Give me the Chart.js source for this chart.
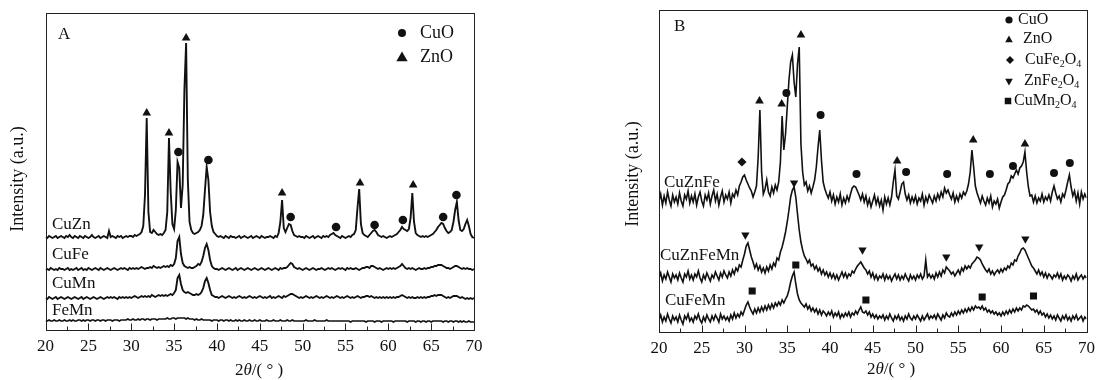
<!DOCTYPE html>
<html>
<head>
<meta charset="utf-8">
<script src="https://cdn.jsdelivr.net/npm/chart.js@4.4.1/dist/chart.umd.min.js"></script>
<style>
  body { margin: 0; background: #fff; }
  #wrap { position: relative; width: 1101px; height: 380px; overflow: hidden; }
  .panel { position: absolute; top: 0; }
  #chartA { left: 0; }
  #chartB { left: 550px; }
</style>
</head>
<body>
<div id="wrap">
  <canvas id="chartA" class="panel" width="550" height="380"></canvas>
  <canvas id="chartB" class="panel" width="551" height="380"></canvas>
</div>
<script>
"use strict";

// ? 2theta grid (degrees), shared by every pattern
const twoTheta = [
  20, 20.2, 20.4, 20.6, 20.8, 21, 21.2, 21.4, 21.6, 21.8,
  22, 22.2, 22.4, 22.6, 22.8, 23, 23.2, 23.4, 23.6, 23.8,
  24, 24.2, 24.4, 24.6, 24.8, 25, 25.2, 25.4, 25.6, 25.8,
  26, 26.2, 26.4, 26.6, 26.8, 27, 27.2, 27.4, 27.6, 27.8,
  28, 28.2, 28.4, 28.6, 28.8, 29, 29.2, 29.4, 29.6, 29.8,
  30, 30.2, 30.4, 30.6, 30.8, 31, 31.2, 31.4, 31.6, 31.8,
  32, 32.2, 32.4, 32.6, 32.8, 33, 33.2, 33.4, 33.6, 33.8,
  34, 34.2, 34.4, 34.6, 34.8, 35, 35.2, 35.4, 35.6, 35.8,
  36, 36.2, 36.4, 36.6, 36.8, 37, 37.2, 37.4, 37.6, 37.8,
  38, 38.2, 38.4, 38.6, 38.8, 39, 39.2, 39.4, 39.6, 39.8,
  40, 40.2, 40.4, 40.6, 40.8, 41, 41.2, 41.4, 41.6, 41.8,
  42, 42.2, 42.4, 42.6, 42.8, 43, 43.2, 43.4, 43.6, 43.8,
  44, 44.2, 44.4, 44.6, 44.8, 45, 45.2, 45.4, 45.6, 45.8,
  46, 46.2, 46.4, 46.6, 46.8, 47, 47.2, 47.4, 47.6, 47.8,
  48, 48.2, 48.4, 48.6, 48.8, 49, 49.2, 49.4, 49.6, 49.8,
  50, 50.2, 50.4, 50.6, 50.8, 51, 51.2, 51.4, 51.6, 51.8,
  52, 52.2, 52.4, 52.6, 52.8, 53, 53.2, 53.4, 53.6, 53.8,
  54, 54.2, 54.4, 54.6, 54.8, 55, 55.2, 55.4, 55.6, 55.8,
  56, 56.2, 56.4, 56.6, 56.8, 57, 57.2, 57.4, 57.6, 57.8,
  58, 58.2, 58.4, 58.6, 58.8, 59, 59.2, 59.4, 59.6, 59.8,
  60, 60.2, 60.4, 60.6, 60.8, 61, 61.2, 61.4, 61.6, 61.8,
  62, 62.2, 62.4, 62.6, 62.8, 63, 63.2, 63.4, 63.6, 63.8,
  64, 64.2, 64.4, 64.6, 64.8, 65, 65.2, 65.4, 65.6, 65.8,
  66, 66.2, 66.4, 66.6, 66.8, 67, 67.2, 67.4, 67.6, 67.8,
  68, 68.2, 68.4, 68.6, 68.8, 69, 69.2, 69.4, 69.6, 69.8,
  70
];

// ! PANEL A : intensity (a.u., stacked offsets)
const cuZn = [
  93, 92, 94, 93, 92, 93, 94, 92, 93, 94,
  93, 92, 94, 93, 95, 93, 92, 94, 93, 92,
  94, 93, 92, 94, 93, 92, 93, 95, 93, 92,
  93, 94, 92, 93, 94, 93, 92, 99, 93, 94,
  93, 92, 94, 93, 94, 92, 93, 94, 93, 94,
  94, 93, 95, 94, 95, 96, 98, 104, 135, 212,
  118, 98, 97, 100, 98, 96, 95, 96, 95, 97,
  100, 118, 192, 138, 106, 101, 120, 168, 162, 122,
  145, 240, 287, 150, 108, 100, 97, 96, 97, 98,
  100, 104, 115, 140, 163, 150, 118, 104, 98, 96,
  94, 93, 94, 93, 92, 94, 93, 92, 94, 93,
  93, 92, 93, 94, 92, 93, 94, 93, 92, 93,
  94, 92, 93, 94, 93, 92, 94, 93, 92, 93,
  93, 94, 93, 92, 94, 93, 97, 108, 130, 102,
  98, 102, 106, 105, 99, 95, 94, 93, 94, 93,
  93, 92, 94, 93, 92, 93, 94, 92, 93, 94,
  93, 92, 94, 93, 94, 93, 95, 96, 97, 95,
  94, 93, 92, 94, 93, 92, 93, 94, 93, 95,
  96, 100, 122, 141, 106, 97, 95, 94, 93, 95,
  97, 99, 100, 98, 95, 94, 93, 94, 93, 92,
  93, 94, 93, 94, 95, 96, 98, 100, 103, 101,
  100, 99, 101, 112, 137, 108, 97, 95, 94, 93,
  94, 93, 94, 93, 94, 95, 96, 98, 100, 103,
  105, 107, 106, 102, 99, 97, 98, 100, 108, 120,
  128, 110, 100, 99, 101, 106, 110, 104, 96, 93,
  92
];
const cuFe = [
  60, 61, 60, 62, 61, 60, 61, 60, 62, 61,
  61, 60, 61, 62, 60, 61, 60, 61, 62, 60,
  61, 62, 60, 61, 60, 62, 61, 60, 61, 62,
  61, 60, 62, 61, 60, 61, 62, 61, 60, 61,
  62, 61, 60, 61, 62, 61, 62, 61, 60, 62,
  61, 62, 61, 62, 61, 62, 63, 62, 61, 62,
  62, 63, 62, 64, 63, 62, 63, 62, 63, 64,
  63, 64, 63, 65, 64, 66, 72, 89, 93, 76,
  67, 64, 63, 62, 63, 62, 62, 63, 64, 66,
  65, 68, 74, 82, 86, 80, 70, 64, 62, 61,
  61, 60, 61, 62, 61, 60, 61, 62, 61, 60,
  61, 62, 60, 61, 62, 61, 60, 61, 62, 61,
  60, 61, 62, 61, 60, 61, 62, 61, 60, 61,
  62, 61, 60, 61, 62, 61, 60, 62, 61, 62,
  62, 63, 65, 67, 66, 63, 62, 61, 62, 61,
  60, 61, 62, 61, 60, 61, 62, 61, 60, 61,
  61, 62, 61, 60, 61, 62, 61, 62, 61, 60,
  61, 62, 61, 62, 61, 60, 62, 61, 62, 61,
  61, 62, 61, 60, 61, 62, 62, 63, 63, 62,
  64, 64, 63, 62, 61, 62, 61, 60, 61, 62,
  61, 62, 61, 62, 61, 62, 63, 64, 66, 64,
  62, 61, 62, 61, 62, 61, 60, 61, 62, 61,
  61, 62, 61, 62, 62, 63, 63, 64, 64, 65,
  65, 65, 64, 63, 62, 62, 61, 62, 63, 64,
  64, 63, 62, 61, 62, 61, 62, 61, 61, 60,
  61
];
const cuMn = [
  32, 31, 33, 32, 31, 32, 33, 31, 32, 33,
  32, 31, 32, 33, 32, 31, 32, 33, 32, 31,
  32, 33, 31, 32, 33, 32, 31, 32, 33, 32,
  31, 32, 33, 32, 31, 32, 33, 32, 33, 32,
  33, 32, 31, 33, 32, 33, 32, 33, 32, 33,
  32, 33, 34, 33, 32, 33, 34, 33, 34, 33,
  34, 33, 35, 34, 33, 34, 35, 34, 35, 34,
  35, 34, 35, 36, 35, 37, 40, 52, 55, 46,
  40, 38, 37, 38, 37, 36, 35, 35, 36, 35,
  36, 38, 42, 49, 52, 47, 40, 35, 34, 33,
  33, 32, 33, 34, 33, 32, 33, 34, 33, 32,
  33, 32, 33, 34, 33, 32, 33, 32, 33, 34,
  33, 32, 33, 32, 33, 34, 33, 32, 33, 32,
  33, 34, 32, 33, 32, 33, 34, 33, 32, 34,
  33, 34, 35, 36, 36, 35, 34, 33, 32, 33,
  32, 33, 34, 33, 32, 33, 32, 33, 34, 33,
  32, 33, 32, 33, 34, 33, 32, 33, 32, 33,
  34, 33, 32, 33, 32, 33, 34, 33, 32, 33,
  32, 33, 34, 33, 32, 33, 33, 34, 34, 33,
  34, 33, 32, 33, 32, 33, 32, 33, 32, 33,
  32, 33, 32, 33, 32, 33, 33, 34, 35, 34,
  33, 32, 33, 32, 33, 32, 32, 33, 32, 33,
  32, 33, 32, 33, 33, 34, 34, 35, 34, 35,
  35, 35, 34, 33, 32, 33, 32, 33, 34, 34,
  34, 33, 32, 33, 32, 31, 32, 31, 32, 31,
  32
];
const feMn = [
  9, 9, 10, 9, 9, 10, 9, 9, 10, 9,
  9, 10, 9, 9, 10, 9, 10, 9, 9, 10,
  10, 9, 10, 9, 10, 10, 9, 10, 10, 9,
  10, 10, 9, 10, 10, 9, 10, 10, 10, 9,
  10, 10, 10, 9, 10, 10, 10, 10, 11, 10,
  10, 11, 10, 10, 11, 10, 11, 11, 10, 11,
  11, 10, 11, 11, 11, 10, 11, 11, 11, 11,
  11, 12, 11, 11, 12, 12, 11, 12, 12, 12,
  12, 12, 11, 12, 11, 11, 11, 10, 11, 10,
  10, 11, 10, 10, 10, 10, 10, 9, 10, 10,
  10, 9, 10, 10, 9, 10, 10, 9, 10, 9,
  9, 10, 9, 10, 9, 9, 10, 9, 9, 10,
  9, 9, 10, 9, 9, 10, 9, 9, 9, 10,
  9, 9, 9, 10, 9, 9, 9, 10, 9, 9,
  9, 10, 9, 9, 10, 9, 9, 9, 9, 9,
  9, 9, 10, 9, 9, 9, 9, 10, 9, 9,
  9, 9, 9, 9, 10, 9, 9, 9, 9, 9,
  9, 9, 9, 9, 9, 9, 9, 9, 8, 9,
  9, 9, 9, 9, 9, 9, 9, 8, 9, 9,
  9, 9, 8, 9, 9, 9, 8, 9, 9, 9,
  9, 9, 9, 8, 9, 9, 9, 9, 9, 9,
  9, 8, 9, 9, 9, 9, 8, 9, 9, 8,
  9, 9, 8, 9, 9, 8, 9, 9, 9, 9,
  9, 9, 8, 9, 9, 8, 9, 9, 8, 9,
  9, 8, 9, 8, 9, 8, 8, 9, 8, 8,
  8
];

// ! PANEL B
const cuZnFe = [
  131, 138, 127, 136, 129, 140, 132, 126, 137, 130,
  135, 128, 139, 131, 126, 137, 133, 141, 129, 136,
  130, 138, 127, 135, 140, 131, 126, 137, 132, 139,
  128, 136, 142, 131, 138, 127, 135, 141, 130, 137,
  133, 140, 129, 138, 135, 142, 137, 146, 150, 155,
  157, 152, 148, 144, 141, 135, 140, 146, 175, 222,
  160, 138, 143, 152, 140, 136, 145, 139, 147, 142,
  150, 170, 216, 182, 198, 225, 252, 270, 277, 250,
  235, 268, 285, 188, 160, 147, 150, 141, 146, 139,
  145, 152, 165, 185, 202, 172, 150, 143, 138, 134,
  140, 131, 137, 128, 135, 130, 138, 127, 134, 129,
  136, 131, 138, 144, 146, 145, 141, 137, 132, 138,
  130, 136, 127, 133, 125, 131, 137, 128, 134, 126,
  132, 122, 135, 128, 134, 127, 135, 150, 162, 136,
  133, 140, 148, 150, 138, 132, 137, 129, 135, 130,
  136, 128, 134, 131, 138, 127, 135, 130, 137, 133,
  129, 136, 131, 138, 133, 140, 135, 144, 139, 142,
  137, 133, 139, 130, 136, 131, 138, 134, 140, 137,
  141, 148, 160, 182, 165, 146, 139, 134, 129, 136,
  131, 127, 134, 129, 136, 125, 131, 128, 133, 124,
  130, 135, 137, 142, 148, 150, 156, 154, 158, 162,
  158, 164, 166, 170, 180, 160, 145, 136, 137, 130,
  136, 129, 134, 131, 138, 130, 135, 132, 137, 131,
  140, 146, 139, 133, 136, 130, 138, 135, 142, 150,
  157, 145, 136, 141, 131, 139, 128, 140, 133, 138,
  134
];
const cuZnFeMn = [
  54, 59, 51, 57, 53, 60, 55, 50, 58, 54,
  57, 52, 59, 54, 50, 58, 55, 61, 53, 57,
  52, 58, 55, 61, 54, 50, 57, 53, 59, 55,
  51, 57, 54, 60, 56, 52, 59, 55, 61, 57,
  54, 60, 56, 62, 58, 64, 61, 67, 65, 72,
  78, 86, 89, 82, 75, 70, 64, 68, 62, 66,
  60, 64, 59, 65, 61, 67, 63, 69, 66, 74,
  72, 80, 85, 92, 100, 110, 122, 135, 142, 145,
  135, 118, 102, 90, 82, 76, 73, 69, 72, 66,
  68, 63, 66, 61, 64, 58, 62, 57, 60, 55,
  59, 54, 58, 53, 57, 52, 56, 60, 55, 59,
  54, 58, 56, 61, 59, 63, 66, 68, 70, 67,
  64, 62, 58, 61, 55, 59, 53, 57, 52, 56,
  54, 58, 52, 57, 53, 56, 51, 55, 58, 53,
  57, 52, 56, 53, 58, 54, 51, 57, 53, 56,
  52, 57, 54, 58, 53, 56, 72, 55, 58, 54,
  57, 53, 59, 55, 60, 56, 62, 59, 65, 63,
  61, 58, 60, 56, 59, 62, 58, 64, 61, 66,
  63, 66, 64, 68, 70, 72, 75, 74, 72, 68,
  65, 62, 60, 63, 58, 61, 57, 60, 62, 59,
  63, 60, 64, 62, 66, 64, 69, 67, 72, 71,
  76, 79, 83, 84, 82, 78, 74, 70, 66, 64,
  61, 58, 62, 57, 60, 55, 59, 54, 58, 56,
  53, 57, 55, 59, 54, 58, 52, 56, 53, 57,
  55, 51, 56, 53, 58, 52, 55, 57, 53, 56,
  54
];
const cuFeMn = [
  12, 17, 10, 15, 11, 18, 13, 9, 16, 12,
  15, 10, 17, 12, 8, 16, 13, 18, 11, 14,
  10, 16, 13, 18, 12, 9, 15, 11, 17, 13,
  10, 16, 12, 17, 14, 10, 18, 13, 16, 12,
  15, 11, 17, 13, 19, 14, 18, 15, 20, 17,
  22, 27, 30, 25, 21, 18, 23, 19, 24, 20,
  25, 21, 26, 22, 27, 23, 28, 24, 29, 26,
  30, 27, 32, 29, 33, 36, 42, 50, 56, 60,
  48, 38, 32, 29, 27, 25, 28, 23, 26, 21,
  24, 20, 23, 18, 22, 17, 21, 19, 16, 20,
  17, 21, 15, 19, 16, 20, 14, 18, 15, 19,
  16, 20, 15, 19, 17, 21, 18, 22, 25, 20,
  19, 21, 17, 20, 15, 18, 14, 17, 13, 16,
  14, 17, 12, 16, 13, 18, 14, 11, 16, 13,
  17, 12, 15, 11, 16, 13, 18, 14, 12, 16,
  13, 17, 14, 11, 16, 12, 15, 18, 13, 16,
  14, 17, 13, 18, 15, 12, 17, 14, 19, 16,
  15, 19, 16, 20, 17, 21, 18, 22, 19, 23,
  20, 24, 21, 25, 22, 26, 24, 25, 23, 26,
  22, 24, 20, 22, 19, 21, 18, 20, 17, 19,
  16, 20, 17, 21, 18, 22, 19, 23, 20, 24,
  21, 24, 22, 26, 25, 27, 26, 24, 22, 23,
  20, 22, 18, 21, 17, 19, 15, 18, 14, 17,
  13, 16, 12, 17, 14, 11, 16, 13, 17, 12,
  15, 11, 16, 13, 17, 12, 14, 16, 11, 15,
  13
];

// ? phase markers (2theta, height)
const cuoA_x = [35.5, 39.0, 48.6, 53.9, 58.4, 61.7, 66.4, 67.95];
const cuoA_y = [178, 170, 113, 103, 105, 110, 113, 135];
const znoA_x = [31.8, 34.4, 36.4, 47.6, 56.7, 62.9];
const znoA_y = [217, 197, 292, 137, 147, 145];

const cuoB_x = [34.9, 38.9, 43.1, 48.9, 53.7, 58.7, 61.4, 66.2, 68.05];
const cuoB_y = [239, 217, 158, 160, 158, 158, 166, 159, 169];
const znoB_x = [31.75, 34.35, 36.6, 47.85, 56.75, 62.8];
const znoB_y = [231, 228, 297, 171, 192, 188];
const cuFe2O4_x = [29.7];
const cuFe2O4_y = [170];
const znFe2O4_x = [30.1, 35.8, 43.8, 53.6, 57.45, 62.85];
const znFe2O4_y = [97, 149, 82, 75, 85, 93];
const cuMn2O4_x = [30.9, 36.0, 44.2, 57.8, 63.8];
const cuMn2O4_y = [41, 67, 32, 35, 36];

const SERIF = '"Liberation Serif", "Times New Roman", serif';
const INK = "#111";

const pts = (ys) => twoTheta.map((x, i) => ({ x: x, y: ys[i] }));
const mk = (xs, ys) => xs.map((x, i) => ({ x: x, y: ys[i] }));

function lineSet(ys, w) {
  return { data: pts(ys), borderColor: INK, borderWidth: w, pointRadius: 0, fill: false, tension: 0 };
}
function markSet(xs, ys, style, r, rot) {
  return {
    data: mk(xs, ys), showLine: false, pointStyle: style, pointRadius: r,
    pointRotation: rot || 0, backgroundColor: INK, borderColor: INK, pointBorderWidth: 0
  };
}

// ? text helpers
function text(ctx, s, x, y, size, align) {
  ctx.font = size + "px " + SERIF;
  ctx.textAlign = align || "left";
  ctx.textBaseline = "middle";
  ctx.fillText(s, x, y);
}
function subText(ctx, parts, x, y, size) {
  let cx = x;
  ctx.textAlign = "left";
  ctx.textBaseline = "middle";
  parts.forEach((p) => {
    const sub = /^[0-9]$/.test(p);
    ctx.font = (sub ? Math.round(size * 0.62) : size) + "px " + SERIF;
    ctx.fillText(p, cx, sub ? y + size * 0.28 : y);
    cx += ctx.measureText(p).width;
  });
}
function xTitle(ctx, cx, y) {
  const parts = [["2", ""], ["θ", "italic "], ["/( ° )", ""]];
  let total = 0;
  parts.forEach((p) => { ctx.font = p[1] + "17px " + SERIF; total += ctx.measureText(p[0]).width; });
  let x = cx - total / 2;
  ctx.textAlign = "left";
  ctx.textBaseline = "middle";
  parts.forEach((p) => {
    ctx.font = p[1] + "17px " + SERIF;
    ctx.fillText(p[0], x, y);
    x += ctx.measureText(p[0]).width;
  });
}
function yTitle(ctx, x, y) {
  ctx.save();
  ctx.translate(x, y);
  ctx.rotate(-Math.PI / 2);
  text(ctx, "Intensity (a.u.)", 0, 0, 18, "center");
  ctx.restore();
}
function frame(chart, ctx) {
  const { left, right, top, bottom } = chart.chartArea;
  ctx.strokeStyle = "#222";
  ctx.lineWidth = 1;
  ctx.strokeRect(Math.round(left) + 0.5, Math.round(top) + 0.5, Math.round(right - left), Math.round(bottom - top));
  const xs = chart.scales.x;
  const b = Math.round(bottom) + 0.5;
  ctx.beginPath();
  xs.ticks.forEach((t, i) => {
    const px = Math.round(xs.getPixelForValue(t.value)) + 0.5;
    ctx.moveTo(px, b); ctx.lineTo(px, b - 7);
    if (i < xs.ticks.length - 1) {
      const mx = Math.round(xs.getPixelForValue((t.value + xs.ticks[i + 1].value) / 2)) + 0.5;
      ctx.moveTo(mx, b); ctx.lineTo(mx, b - 4);
    }
  });
  ctx.stroke();
}
function legendMark(ctx, style, r, rot, x, y) {
  ctx.fillStyle = INK;
  Chart.helpers.drawPoint(ctx, { pointStyle: style, radius: r, rotation: rot || 0, borderWidth: 0 }, x, y);
}

function makeChart(id, pad, xHeight, yMax, datasets, decorate) {
  return new Chart(document.getElementById(id), {
    type: "line",
    data: { datasets: datasets },
    options: {
      responsive: false,
      animation: false,
      events: [],
      layout: { padding: pad },
      plugins: { legend: { display: false }, tooltip: { enabled: false } },
      scales: {
        x: {
          type: "linear", min: 20, max: 70,
          grid: { display: false, drawTicks: false },
          border: { display: false },
          ticks: {
            stepSize: 5, autoSkip: false, maxRotation: 0, padding: 6, color: INK,
            font: { family: SERIF, size: 17 }
          },
          afterFit: (s) => { s.height = xHeight; }
        },
        y: { display: false, min: 0, max: yMax }
      }
    },
    plugins: [{
      id: "decor",
      afterDraw: (chart) => {
        const ctx = chart.ctx;
        ctx.save();
        frame(chart, ctx);
        ctx.fillStyle = INK;
        decorate(ctx);
        ctx.restore();
      }
    }]
  });
}

// ! PANEL A
makeChart("chartA", { left: 45.6, right: 76, top: 13, bottom: 0 }, 50, 317, [
  lineSet(cuZn, 1.9), lineSet(cuFe, 1.9), lineSet(cuMn, 1.9), lineSet(feMn, 1.7),
  markSet(cuoA_x, cuoA_y, "circle", 4.3),
  markSet(znoA_x, znoA_y, "triangle", 5)
], (ctx) => {
  text(ctx, "A", 58, 35, 17);
  text(ctx, "CuZn", 52, 225, 17);
  text(ctx, "CuFe", 52, 255, 17);
  text(ctx, "CuMn", 52, 284, 17);
  text(ctx, "FeMn", 52, 311, 17);
  legendMark(ctx, "circle", 4, 0, 402, 33);
  text(ctx, "CuO", 420, 33, 18);
  legendMark(ctx, "triangle", 6.5, 0, 402, 58);
  text(ctx, "ZnO", 420, 57, 18);
  yTitle(ctx, 18, 179);
  xTitle(ctx, 259, 371);
});

// ! PANEL B
makeChart("chartB", { left: 109, right: 10, top: 10, bottom: 0 }, 48, 322, [
  lineSet(cuZnFe, 1.6), lineSet(cuZnFeMn, 1.6), lineSet(cuFeMn, 1.6),
  markSet(cuoB_x, cuoB_y, "circle", 4),
  markSet(znoB_x, znoB_y, "triangle", 5),
  markSet(cuFe2O4_x, cuFe2O4_y, "rectRot", 4.6),
  markSet(znFe2O4_x, znFe2O4_y, "triangle", 4.8, 180),
  markSet(cuMn2O4_x, cuMn2O4_y, "rect", 5)
], (ctx) => {
  text(ctx, "B", 124, 27, 17);
  text(ctx, "CuZnFe", 114, 183, 17);
  text(ctx, "CuZnFeMn", 110, 256, 17);
  text(ctx, "CuFeMn", 115, 301, 17);
  legendMark(ctx, "circle", 3.6, 0, 459, 20);
  subText(ctx, ["CuO"], 468, 20, 16);
  legendMark(ctx, "triangle", 4.4, 0, 459, 40);
  subText(ctx, ["ZnO"], 473, 39, 16);
  legendMark(ctx, "rectRot", 4, 0, 460, 60);
  subText(ctx, ["CuFe", "2", "O", "4"], 475, 60, 16);
  legendMark(ctx, "triangle", 4.4, 180, 459, 81);
  subText(ctx, ["ZnFe", "2", "O", "4"], 474, 81, 16);
  legendMark(ctx, "rect", 4.6, 0, 458, 101);
  subText(ctx, ["CuMn", "2", "O", "4"], 464, 101, 16);
  yTitle(ctx, 83, 174);
  xTitle(ctx, 341, 370);
});
</script>
</body>
</html>
